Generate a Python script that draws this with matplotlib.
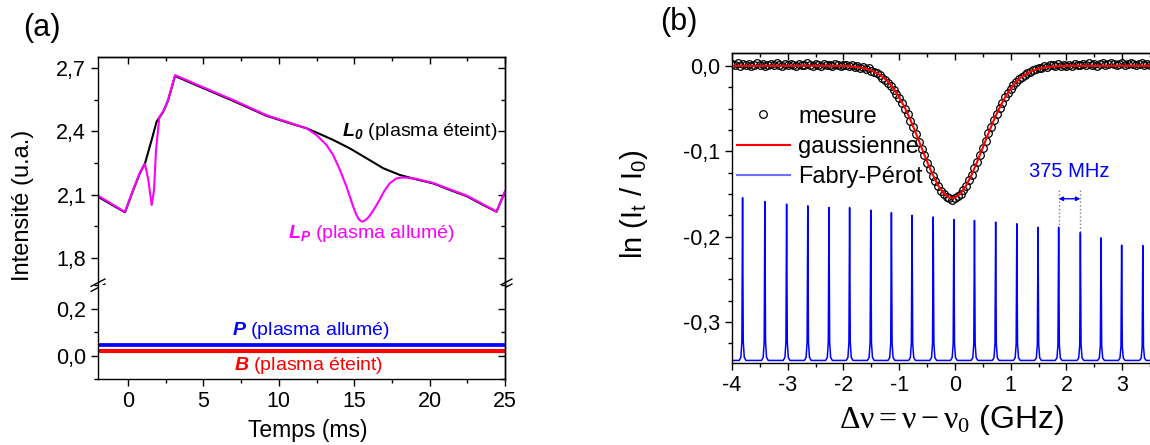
import numpy as np
import matplotlib.pyplot as plt
from matplotlib.ticker import MultipleLocator, FuncFormatter, NullFormatter
from matplotlib.lines import Line2D

plt.rcParams['font.family'] = ['Liberation Sans', 'DejaVu Sans']
plt.rcParams['mathtext.fontset'] = 'custom'
plt.rcParams['mathtext.rm'] = 'Liberation Serif'
plt.rcParams['mathtext.it'] = 'Liberation Serif:italic'
plt.rcParams['mathtext.bf'] = 'Liberation Sans:italic:bold'
plt.rcParams['mathtext.sf'] = 'Liberation Sans'

# ---- (a) transmission du laser
t_L0 = [-2.0, -0.21, 0.34, 0.78, 1.12, 1.56, 1.89, 2.33, 2.66, 3.11, 4.76, 6.97,
        9.19, 10.73, 11.84, 12.72, 13.6, 14.71, 15.82, 16.92, 18.03, 19.13, 20.24,
        21.34, 22.45, 23.55, 24.44, 25.0]
L0 = [2.090, 2.016, 2.122, 2.201, 2.248, 2.359, 2.446, 2.493, 2.548, 2.662, 2.611,
      2.544, 2.473, 2.438, 2.414, 2.387, 2.359, 2.319, 2.272, 2.225, 2.193, 2.172,
      2.153, 2.122, 2.093, 2.051, 2.019, 2.114]

t_LP = [-2.0, -0.21, 0.34, 0.78, 1.12, 1.34, 1.56, 1.72, 1.85, 2.07, 2.44, 2.66,
        3.11, 4.76, 6.97, 9.19, 10.73, 11.84, 12.5, 13.16, 13.6, 14.05, 14.49,
        14.93, 15.15, 15.32, 15.5, 15.7, 15.95, 16.2, 16.45, 16.7, 17.0, 17.36,
        17.8, 18.25, 19.13, 20.24, 21.34, 22.45, 23.55, 24.44, 25.0]
LP = [2.095, 2.018, 2.124, 2.205, 2.245, 2.169, 2.051, 2.122, 2.311, 2.466, 2.509,
      2.551, 2.666, 2.615, 2.548, 2.476, 2.440, 2.414, 2.382, 2.335, 2.288, 2.217,
      2.137, 2.043, 2.003, 1.982, 1.972, 1.977, 1.993, 2.018, 2.047, 2.078, 2.118,
      2.154, 2.177, 2.182, 2.174, 2.155, 2.125, 2.096, 2.054, 2.020, 2.114]

t_PB = [-2.0, 25.0]
P = [0.043, 0.043]
B = [0.020, 0.020]

# ---- (b) absorption, pas de 0,05 GHz
mes_x = np.linspace(-4.0, 4.0, 161)
mes_left = [0.002, 0.001, 0.003, 0.000, 0.002, 0.001, 0.002, 0.000, 0.001, 0.003,
            0.001, 0.002, 0.000, 0.001, 0.002, 0.001, 0.003, 0.001, 0.000, 0.002,
            0.001, 0.002, 0.001, 0.000, 0.002, 0.001, 0.001, 0.003, 0.001, 0.000,
            0.002, 0.001, 0.000, 0.002, 0.001, 0.001, 0.000, 0.002, 0.001, 0.000,
            0.001]
mes_dip = [0.001, 0.000, 0.001, -0.001, 0.000, -0.002, -0.001, -0.004, -0.003,
           -0.006, -0.007, -0.009, -0.011, -0.014, -0.017, -0.020, -0.024, -0.028,
           -0.033, -0.038, -0.044, -0.050, -0.057, -0.065, -0.072, -0.080, -0.089,
           -0.097, -0.105, -0.114, -0.121, -0.129, -0.135, -0.141, -0.147, -0.150,
           -0.154, -0.155, -0.157, -0.155, -0.153, -0.150, -0.146, -0.141, -0.134,
           -0.128, -0.120, -0.113, -0.104, -0.096, -0.088, -0.079, -0.072, -0.063,
           -0.057, -0.049, -0.043, -0.037, -0.032, -0.027, -0.023, -0.019, -0.016,
           -0.013, -0.011, -0.008, -0.007, -0.005, -0.004, -0.002, -0.002, 0.000,
           -0.001, 0.001, 0.001, 0.000, 0.002, 0.000, 0.001]
mes_right = [0.000, 0.001, 0.000, 0.002, 0.001, 0.001, 0.002, 0.001, 0.003, 0.001,
             0.002, 0.000, 0.002, 0.003, 0.001, 0.002, 0.003, 0.002, 0.001, 0.002,
             0.003, 0.001, 0.002, 0.003, 0.002, 0.001, 0.002, 0.003, 0.001, 0.002,
             0.001, 0.002, 0.003, 0.001, 0.002, 0.001, 0.002, 0.001, 0.002, 0.001,
             0.001]
mes_y = np.array(mes_left + mes_dip + mes_right)

gauss_x = [-4.0, -2.0, -1.8, -1.7, -1.6, -1.5, -1.4, -1.3, -1.2, -1.1, -1.0, -0.9,
           -0.8, -0.7, -0.6, -0.5, -0.4, -0.3, -0.2, -0.1, 0.0, 0.1, 0.2, 0.3, 0.4,
           0.5, 0.6, 0.7, 0.8, 0.9, 1.0, 1.1, 1.2, 1.3, 1.4, 1.5, 1.6, 1.7, 2.0, 4.0]
gauss_y = [0.0, 0.0, -0.0012, -0.0020, -0.0034, -0.0054, -0.0085, -0.0128, -0.0188,
           -0.0267, -0.0368, -0.0490, -0.0632, -0.0790, -0.0957, -0.1122, -0.1275,
           -0.1403, -0.1495, -0.1544, -0.1544, -0.1495, -0.1403, -0.1275, -0.1122,
           -0.0957, -0.0790, -0.0632, -0.0490, -0.0368, -0.0267, -0.0188, -0.0128,
           -0.0085, -0.0054, -0.0034, -0.0020, -0.0012, 0.0, 0.0]

fp_pos = [-3.81, -3.41, -3.02, -2.64, -2.26, -1.89, -1.51, -1.14, -0.77, -0.39,
          -0.02, 0.35, 0.73, 1.11, 1.49, 1.86, 2.25, 2.62, 2.99, 3.37]
fp_top = [-0.1545, -0.159, -0.162, -0.164, -0.166, -0.166, -0.169, -0.172, -0.175,
          -0.177, -0.180, -0.181, -0.183, -0.185, -0.189, -0.189, -0.195, -0.2015,
          -0.210, -0.2105]
fp_base = -0.345


def comma(v, pos):
    s = f'{v:.1f}'.replace('.', ',')
    return '0,0' if s == '-0,0' else s


def entier(v, pos):
    if v > 3.5:
        return ''
    s = f'{v:.0f}'
    return '0' if s == '-0' else s


def style_ticks(ax):
    ax.tick_params(which='both', labelsize=15.5, width=1, direction='out')
    ax.tick_params(which='major', length=5)
    ax.tick_params(which='minor', length=3)
    for sp in ax.spines.values():
        sp.set_linewidth(1)


def inner_ticks(sec, axis, major, minor):
    axis.set_major_locator(MultipleLocator(major))
    axis.set_minor_locator(MultipleLocator(minor))
    axis.set_major_formatter(NullFormatter())
    sec.tick_params(which='both', direction='in', width=1)
    sec.tick_params(which='major', length=5)
    sec.tick_params(which='minor', length=3)
    for sp in sec.spines.values():
        sp.set_linewidth(1)


fig = plt.figure(figsize=(11.5, 4.45), dpi=100)

# ======== (a)
ax_hi = fig.add_axes([0.0852, 0.3596, 0.3539, 0.5124])
ax_lo = fig.add_axes([0.0852, 0.1483, 0.3539, 0.2112])

ax_hi.plot(t_L0, L0, color='black', lw=1.5)
ax_hi.plot(t_LP, LP, color='#ff00ff', lw=1.5)
ax_lo.plot(t_PB, P, color='#0000ff', lw=2.7)
ax_lo.plot(t_PB, B, color='#ff0000', lw=3.0)

ax_hi.set_ylim(1.672, 2.752)
ax_hi.yaxis.set_major_locator(MultipleLocator(0.3))
ax_hi.yaxis.set_minor_locator(MultipleLocator(0.15))
ax_hi.spines['bottom'].set_visible(False)

ax_lo.set_ylim(-0.1, 0.3)
ax_lo.yaxis.set_major_locator(MultipleLocator(0.2))
ax_lo.yaxis.set_minor_locator(MultipleLocator(0.1))
ax_lo.spines['top'].set_visible(False)

for ax, steps in ((ax_hi, (0.3, 0.15)), (ax_lo, (0.2, 0.1))):
    ax.set_xlim(-2, 25)
    ax.xaxis.set_major_locator(MultipleLocator(5))
    ax.xaxis.set_minor_locator(MultipleLocator(2.5))
    ax.xaxis.set_major_formatter(FuncFormatter(lambda v, p: f'{v:.0f}'))
    ax.yaxis.set_major_formatter(FuncFormatter(comma))
    style_ticks(ax)
    sec = ax.secondary_yaxis('right')
    inner_ticks(sec, sec.yaxis, *steps)

ax_hi.tick_params(axis='x', which='both', bottom=False, labelbottom=False)
sec = ax_hi.secondary_xaxis('top')
inner_ticks(sec, sec.xaxis, 5, 2.5)

# marques de coupure de l'axe
for x0 in (0, 1):
    for yc in (0.010, -0.012):
        ax_hi.plot([x0 - 0.017, x0 + 0.017], [yc - 0.016, yc + 0.016],
                   transform=ax_hi.transAxes, color='black', lw=1, clip_on=False)

ax_hi.text(24.5, 2.40, r'$\mathbf{L_0}$ (plasma éteint)', ha='right', va='center',
           fontsize=14)
ax_hi.text(16.1, 1.917, r'$\mathbf{L_P}$ (plasma allumé)', color='#ff00ff',
           ha='center', va='center', fontsize=14)
ax_lo.text(12.1, 0.106, r'$\mathbf{P}$ (plasma allumé)', color='#0000ff',
           ha='center', va='center', fontsize=14)
ax_lo.text(11.96, -0.043, r'$\mathbf{B}$ (plasma éteint)', color='#ff0000',
           ha='center', va='center', fontsize=14)

fig.text(23 / 1150, 1 - 205 / 445, 'Intensité (u.a.)', rotation=90, ha='center',
         va='center', fontsize=17)
fig.text(307.5 / 1150, 1 - 431 / 445, 'Temps (ms)', ha='center', va='center',
         fontsize=16.5)
fig.text(42 / 1150, 1 - 28 / 445, '(a)', ha='center', va='center', fontsize=22)

# ======== (b)
ax_b = fig.add_axes([0.6365, 0.1843, 0.3878, 0.6966])

fx = [-4.0]
fy = [fp_base]
shape_dx = [-0.06, -0.03, -0.012, 0.0, 0.012, 0.03, 0.06]
shape_f = [0.0, 0.02, 0.12, 1.0, 0.12, 0.02, 0.0]
for p, h in zip(fp_pos, fp_top):
    for dx, f in zip(shape_dx, shape_f):
        fx.append(p + dx)
        fy.append(fp_base + f * (h - fp_base))
fx.append(4.0)
fy.append(fp_base)
ax_b.plot(fx, fy, color='#0000ff', lw=1.1)

ax_b.plot(mes_x, mes_y, 'o', mfc='none', mec='black', ms=5.5, mew=0.9)
ax_b.plot(gauss_x, gauss_y, color='#ff0000', lw=1.5)

# intervalle spectral libre
for i in (15, 16):
    ax_b.plot([fp_pos[i], fp_pos[i]], [-0.146, fp_top[i]], color='gray', ls=':', lw=1)
ax_b.annotate('', xy=(fp_pos[16], -0.1557), xytext=(fp_pos[15], -0.1557),
              arrowprops=dict(arrowstyle='<|-|>', color='#0000ff', lw=1,
                              mutation_scale=6, shrinkA=0, shrinkB=0))
ax_b.text((fp_pos[15] + fp_pos[16]) / 2, -0.124, '375 MHz', color='#0000ff',
          ha='center', va='center', fontsize=14.5)

ax_b.set_xlim(-4, 4)
ax_b.set_ylim(-0.348, 0.015)
ax_b.xaxis.set_major_locator(MultipleLocator(1))
ax_b.xaxis.set_minor_locator(MultipleLocator(0.5))
ax_b.yaxis.set_major_locator(MultipleLocator(0.1))
ax_b.yaxis.set_minor_locator(MultipleLocator(0.025))
ax_b.xaxis.set_major_formatter(FuncFormatter(entier))
ax_b.yaxis.set_major_formatter(FuncFormatter(comma))
style_ticks(ax_b)
sec = ax_b.secondary_xaxis('top')
inner_ticks(sec, sec.xaxis, 1, 0.5)

handles = [Line2D([], [], ls='none', marker='o', mfc='none', mec='black', ms=5.5, mew=0.9),
           Line2D([], [], color='#ff0000', lw=1.5),
           Line2D([], [], color='#7070ff', lw=1.5)]
ax_b.legend(handles, ['mesure', 'gaussienne', 'Fabry-Pérot'], loc='upper left',
            bbox_to_anchor=(0.011, 0.83), frameon=False, fontsize=17,
            borderpad=0, borderaxespad=0, handlelength=2.25, handletextpad=0.35,
            labelspacing=0.35)

fig.text(634 / 1150, 1 - 204 / 445, r'ln (I$_\mathsf{t}$ / I$_\mathsf{0}$)',
         rotation=90, ha='center', va='center', fontsize=21)
fig.text(952 / 1150, 1 - 428 / 445, r'$\mathrm{\Delta\nu = \nu - \nu_0}$ (GHz)',
         ha='center', va='baseline', fontsize=23)
fig.text(679 / 1150, 1 - 22 / 445, '(b)', ha='center', va='center', fontsize=22)

fig.savefig('out.png', dpi=100)
